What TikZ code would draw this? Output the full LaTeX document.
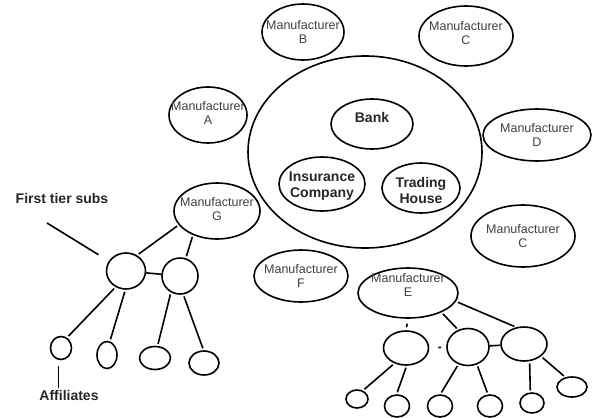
\documentclass[tikz,border=0pt]{standalone}
\usepackage{fontspec}
\setmainfont{Liberation Sans}
\usetikzlibrary{shapes.geometric}

\begin{document}
\begin{tikzpicture}[
  x=1pt, y=-1pt,
  bubble/.style={draw, ellipse, line width=1.6pt, inner sep=0pt},
  mtxt/.style={align=center, inner sep=0pt, font=\fontsize{12.5}{14}\selectfont, text=black!75},
  ctxt/.style={align=center, inner sep=0pt, font=\fontsize{14}{16}\selectfont\bfseries, text=black!85},
  note/.style={inner sep=0pt, font=\fontsize{14}{16}\selectfont\bfseries, text=black!85},
  link/.style={line width=1.6pt, shorten <=2pt, shorten >=2pt}
]
\useasboundingbox (0,0) rectangle (595,418);

% the group in the middle
\node[bubble, minimum width=234pt, minimum height=192pt] (core) at (365,152) {};
\node[bubble, minimum width=82pt, minimum height=50pt,
      label={[ctxt, yshift=7pt]center:Bank}] (bank) at (372,124) {};
\node[bubble, minimum width=86pt, minimum height=54pt,
      label={[ctxt, yshift=-2pt]center:Insurance\\Company}] (insure) at (322,184) {};
\node[bubble, minimum width=78pt, minimum height=50pt,
      label={[ctxt, yshift=-2pt]center:Trading\\House}] (trade) at (421,188) {};

% manufacturers round it
\node[bubble, minimum width=78pt, minimum height=56pt,
      label={[mtxt, yshift=2pt]center:Manufacturer\\A}] (mfrA) at (208,115) {};
\node[bubble, minimum width=82pt, minimum height=56pt,
      label={[mtxt]center:Manufacturer\\B}] (mfrB) at (303,32) {};
\node[bubble, minimum width=94pt, minimum height=60pt,
      label={[mtxt, yshift=3pt]center:Manufacturer\\C}] (mfrC) at (466,36) {};
\node[bubble, minimum width=108pt, minimum height=52pt,
      label={[mtxt]center:Manufacturer\\D}] (mfrD) at (537,135) {};
\node[bubble, minimum width=104pt, minimum height=62pt,
      label={[mtxt]center:Manufacturer\\C}] (mfrCC) at (523,236) {};
\node[bubble, minimum width=100pt, minimum height=50pt,
      label={[mtxt, yshift=8pt]center:Manufacturer\\E}] (mfrE) at (408,293) {};
\node[bubble, minimum width=94pt, minimum height=52pt,
      label={[mtxt]center:Manufacturer\\F}] (mfrF) at (301,276) {};
\node[bubble, minimum width=86pt, minimum height=56pt,
      label={[mtxt, yshift=2pt]center:Manufacturer\\G}] (mfrG) at (217,211) {};

% G and its subs
\node[note] (tier) at (62,198) {First tier subs};
\coordinate (tierend) at (47,223);
\node[bubble, minimum width=39pt, minimum height=36pt] (gsubL) at (126,271) {};
\node[bubble, minimum width=36pt, minimum height=36pt] (gsubR) at (180,276) {};
\node[bubble, minimum width=21pt, minimum height=23pt] (gaff1) at (61,348) {};
\node[bubble, minimum width=20pt, minimum height=27pt] (gaff2) at (107,355) {};
\node[bubble, minimum width=31pt, minimum height=23pt] (gaff3) at (155,358) {};
\node[bubble, minimum width=30pt, minimum height=24pt] (gaff4) at (204,363) {};
\node[note] (affil) at (69,395) {Affiliates};

\draw[link, shorten <=0pt, shorten >=12pt] (tierend) -- (gsubL.150);
\draw[link] (mfrG.200) -- (gsubL.55);
\draw[link] (mfrG.225) -- (gsubR.72);
\draw[link, shorten <=0pt, shorten >=0pt] (gsubL) -- (gsubR);
\draw[link] (gsubL.237) -- (gaff1.60);
\draw[link] (gsubL.268) -- (gaff2.78);
\draw[link] (gsubR.241) -- (gaff3.78);
\draw[link] (gsubR.280) -- (gaff4.92);
\draw[link, shorten <=6pt] (gaff1.258) -- (gaff1.258 |- affil.north);

% E and its subs
\node[bubble, minimum width=45pt, minimum height=34pt] (esub1) at (406,348) {};
\node[bubble, minimum width=42pt, minimum height=37pt] (esub2) at (468,347) {};
\node[bubble, minimum width=46pt, minimum height=34pt] (esub3) at (524,344) {};
\node[bubble, minimum width=22pt, minimum height=18pt] (eaff1) at (357,399) {};
\node[bubble, minimum width=25pt, minimum height=22pt] (eaff2) at (397,406) {};
\node[bubble, minimum width=25pt, minimum height=22pt] (eaff3) at (440,406) {};
\node[bubble, minimum width=25pt, minimum height=22pt] (eaff4) at (490,406) {};
\node[bubble, minimum width=24pt, minimum height=20pt] (eaff5) at (532,403) {};
\node[bubble, minimum width=30pt, minimum height=20pt] (eaff6) at (572,387) {};

\draw[link, shorten <=5pt, shorten >=3pt] (mfrE.south) -- (esub1.north);
\draw[link, shorten <=9pt, shorten >=5pt] (esub1) -- (esub2);
\draw[link, shorten <=0pt, shorten >=0pt] (esub2) -- (esub3);
\draw[link] (mfrE.330) -- (esub2.120);
\draw[link] (mfrE.350) -- (esub3.115);
\draw[link] (esub1.233) -- (eaff1.55);
\draw[link] (esub1.272) -- (eaff2.92);
\draw[link] (esub2.241) -- (eaff3.88);
\draw[link] (esub2.297) -- (eaff4.100);
\draw[link] (esub3.288) -- (eaff5.99);
\draw[link] (esub3.324) -- (eaff6.124);
\end{tikzpicture}
\end{document}
